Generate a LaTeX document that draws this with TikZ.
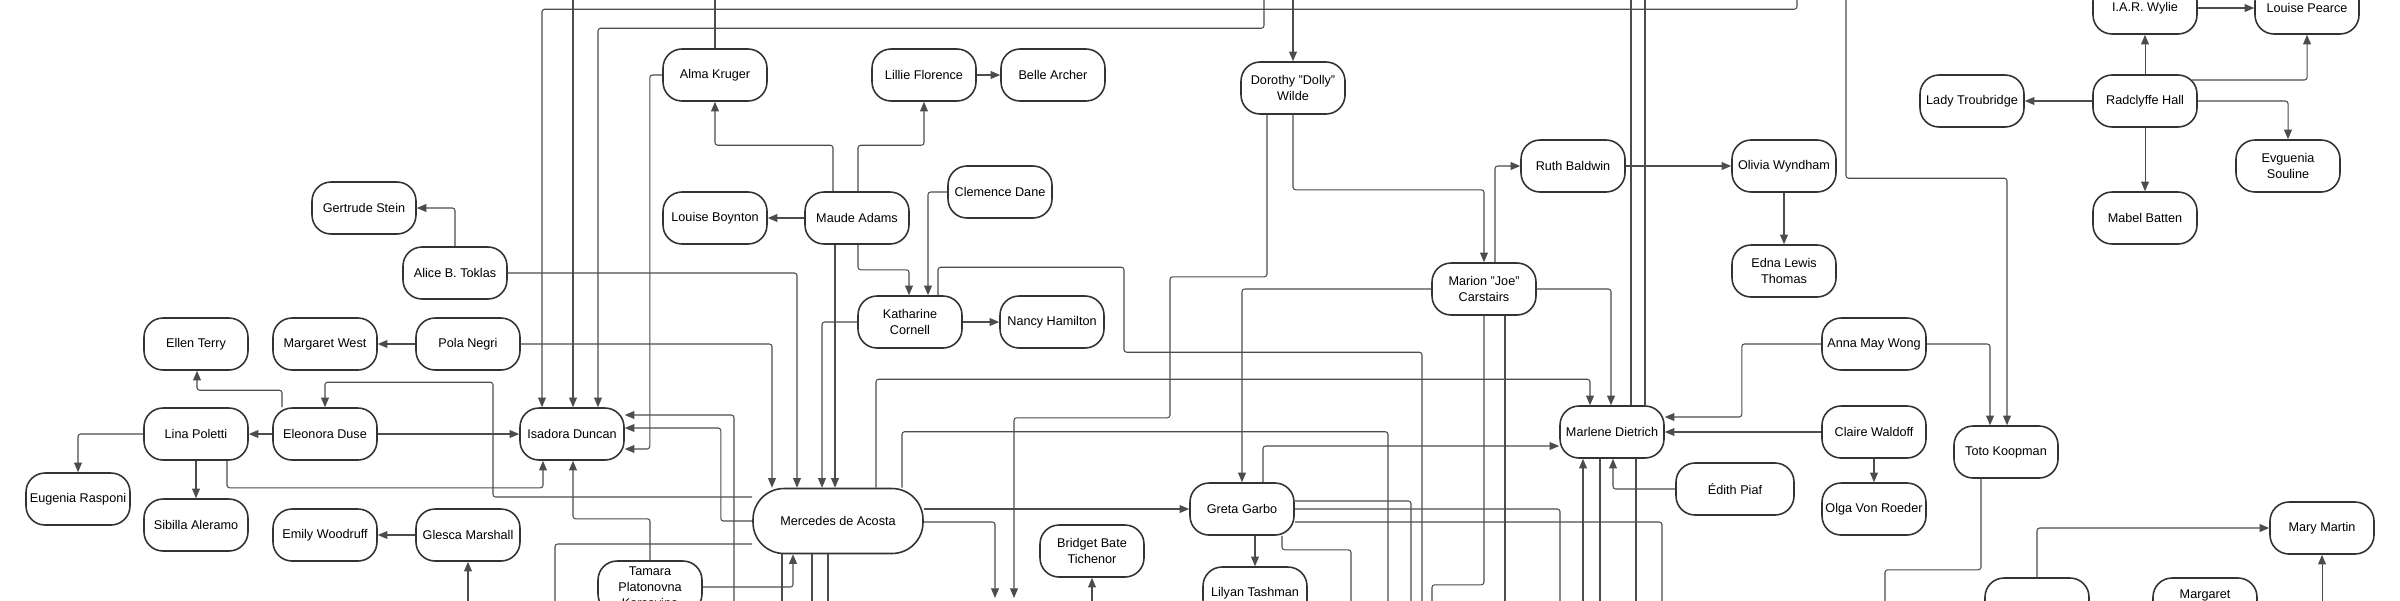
\documentclass[tikz,border=0pt]{standalone}
\usepackage{fontspec}
\setmainfont{Liberation Sans}
\usetikzlibrary{arrows.meta,calc}

\newcommand*{\framew}{2400}
\newcommand*{\frameh}{600}

\begin{document}
\begin{tikzpicture}
[
	x=0.02cm, y=-0.02cm,
	>={Triangle[length=5.5pt,width=4.5pt]},
	person/.style={draw=black!80,line width=0.9pt,rounded corners=0.38cm,minimum width=2.08cm,minimum height=1.04cm,inner sep=1pt,align=center,font=\fontsize{7.2}{9}\selectfont},
	bigperson/.style={person,minimum width=3.4cm,minimum height=1.3cm,rounded corners=0.62cm},
	link/.style={draw=black!70,line width=0.6pt,rounded corners=1.5pt},
]

	\useasboundingbox (0,0) rectangle (\framew,\frameh);
	\clip (0,0) rectangle (\framew,\frameh);

	% ends outside the frame
	\foreach \x in {573,715,1264,1293,1631,1645,1797,1846}
		\coordinate (t\x) at (\x,-20);
	\foreach \x in {468,555,734,782,812,828,1092,1351,1388,1411,1422,1432,1505,1560,1583,1600,1636,1662,1885,2322}
		\coordinate (b\x) at (\x,620);
	\coordinate (b995) at (995,598);
	\coordinate (b1014) at (1014,598);

	% people
	\node[person] at (364,208) (gertrude) {Gertrude Stein};
	\node[person] at (455,273) (alice) {Alice B. Toklas};
	\node[person] at (715,75) (alma) {Alma Kruger};
	\node[person] at (924,75) (lillie) {Lillie Florence};
	\node[person] at (1053,75) (belle) {Belle Archer};
	\node[person] at (715,218) (boynton) {Louise Boynton};
	\node[person] at (857,218) (maude) {Maude Adams};
	\node[person] at (1000,192) (clemence) {Clemence Dane};
	\node[person] at (1293,88) (dolly) {Dorothy "Dolly"\\Wilde};
	\node[person] at (1484,289) (marion) {Marion "Joe"\\Carstairs};
	\node[person] at (1573,166) (ruth) {Ruth Baldwin};
	\node[person] at (1784,166) (olivia) {Olivia Wyndham};
	\node[person] at (1784,271) (edna) {Edna Lewis\\Thomas};
	\node[person] at (2145,8) (wylie) {I.A.R. Wylie};
	\node[person] at (2307,8) (pearce) {Louise Pearce};
	\node[person] at (2145,101) (radclyffe) {Radclyffe Hall};
	\node[person] at (1972,101) (troubridge) {Lady Troubridge};
	\node[person] at (2288,166) (souline) {Evguenia\\Souline};
	\node[person] at (2145,218) (batten) {Mabel Batten};

	\node[person] at (196,344) (terry) {Ellen Terry};
	\node[person] at (325,344) (west) {Margaret West};
	\node[person] at (468,344) (negri) {Pola Negri};
	\node[person] at (196,434) (poletti) {Lina Poletti};
	\node[person] at (325,434) (duse) {Eleonora Duse};
	\node[person] at (572,434) (isadora) {Isadora Duncan};
	\node[person] at (78,499) (rasponi) {Eugenia Rasponi};
	\node[person] at (196,525) (aleramo) {Sibilla Aleramo};
	\node[person] at (325,535) (woodruff) {Emily Woodruff};
	\node[person] at (468,535) (glesca) {Glesca Marshall};
	\node[person] at (910,322) (katharine) {Katharine\\Cornell};
	\node[person] at (1052,322) (hamilton) {Nancy Hamilton};
	\node[bigperson] at (838,521) (mercedes) {Mercedes de Acosta};
	\node[person] at (650,587) (tamara) {Tamara\\Platonovna\\Karsavina};
	\node[person] at (1092,551) (bridget) {Bridget Bate\\Tichenor};
	\node[person] at (1242,509) (greta) {Greta Garbo};
	\node[person] at (1255,593) (lilyan) {Lilyan Tashman};
	\node[person] at (1612,432) (marlene) {Marlene Dietrich};
	\node[person,minimum width=2.36cm] at (1735,489) (edith) {Édith Piaf};
	\node[person] at (1874,344) (anna) {Anna May Wong};
	\node[person] at (1874,432) (claire) {Claire Waldoff};
	\node[person] at (1874,509) (olga) {Olga Von Roeder};
	\node[person] at (2006,452) (toto) {Toto Koopman};
	\node[person] at (2322,528) (mary) {Mary Martin};
	\node[person] at (2037,604) (nb) {};
	\node[person] at (2205,604) (margaret) {Margaret\\\strut};

	% links, upper left
	\draw[link,->] (alice.north) |- (gertrude.east);
	\draw[link,->] (alice.east) -| ($(mercedes.north)+(-41,0)$);
	\draw[link] (alma.north) -- (t715);
	\draw[link,->] ($(maude.north)+(-24,0)$) -- ++(0,-46) -| (alma.south);
	\draw[link,->] ($(maude.north)+(1,0)$) -- ++(0,-46) -| (lillie.south);
	\draw[link,->] (lillie) -- (belle);
	\draw[link,->] (maude) -- (boynton);
	\draw[link,->] ($(maude.south)+(1,0)$) -- ++(0,25) -| ($(katharine.north)+(-1,0)$);
	\draw[link,->] (clemence.west) -| ($(katharine.north)+(18,0)$);
	\draw[link,->] ($(maude.south)+(-22,0)$) -- ($(mercedes.north)+(-3,0)$);
	\draw[link,->] (katharine.west) -| ($(mercedes.north)+(-16,0)$);
	\draw[link,->] (katharine) -- (hamilton);
	\draw[link] ($(katharine.north)+(28,0)$) |- ($(katharine.north)+(214,-28)$) -- ++(0,85) -| (b1422);

	% links into isadora
	\draw[link,->] (t1797) |- ($(isadora.north)+(-30,-398)$) -- ($(isadora.north)+(-30,0)$);
	\draw[link,->] (t573) -- ($(isadora.north)+(1,0)$);
	\draw[link,->] (t1264) |- ($(isadora.north)+(26,-379)$) -- ($(isadora.north)+(26,0)$);
	\draw[link,->] (duse.east) -- (isadora.west);
	\draw[link,->] (b734) |- ($(isadora.east)+(0,-19)$);
	\draw[link,->] (mercedes.west) -| ($(isadora.east)+(96,-6)$) -- ($(isadora.east)+(0,-6)$);
	\draw[link,->] (alma.west) -| ($(isadora.east)+(25,15)$) -- ($(isadora.east)+(0,15)$);
	\draw[link,->] ($(poletti.south)+(31,0)$) |- ($(isadora.south)+(-29,27)$) -- ($(isadora.south)+(-29,0)$);
	\draw[link,->] (tamara.north) |- ($(isadora.south)+(1,58)$) -- ($(isadora.south)+(1,0)$);

	% links, left
	\draw[link,->] (negri) -- (west);
	\draw[link,->] (negri.east) -| ($(mercedes.north)+(-66,0)$);
	\draw[link,->] (duse) -- (poletti);
	\draw[link,->] ($(duse.north)+(-43,0)$) -- ++(0,-17) -| ($(terry.south)+(1,0)$);
	\draw[link,->] ($(mercedes.west)+(0,-24)$) -| ($(duse.north)+(168,-25)$) -| (duse.north);
	\draw[link,->] (poletti.west) -| (rasponi.north);
	\draw[link,->] (poletti) -- (aleramo);
	\draw[link,->] (glesca) -- (woodruff);
	\draw[link,->] (b468) -- (glesca.south);
	\draw[link,->] (tamara.east) -| ($(mercedes.south)+(-45,0)$);
	\draw[link] ($(mercedes.west)+(0,23)$) -| (b555);
	\draw[link] ($(mercedes.south)+(-56,0)$) -- (b782);
	\draw[link] ($(mercedes.south)+(-26,0)$) -- (b812);
	\draw[link] ($(mercedes.south)+(-10,0)$) -- (b828);

	% links, middle
	\draw[link,->] ($(mercedes.north)+(38,0)$) |- ($(marlene.north)+(-22,-26)$) -- ($(marlene.north)+(-22,0)$);
	\draw[link] ($(mercedes.north)+(64,0)$) |- ($(mercedes.north)+(550,-56)$) -- (b1388);
	\draw[link,->] (mercedes.east |- greta.west) -- (greta.west);
	\draw[link,->] ($(mercedes.east)+(0,1)$) -| (b995);
	\draw[link,->] ($(dolly.south)+(-26,0)$) |- ($(dolly.south)+(-123,162)$) -- ++(0,141) -| (b1014);
	\draw[link,->] (b1092) -- (bridget.south);
	\draw[link,->] (t1293) -- (dolly.north);
	\draw[link,->] (dolly.south) -- ++(0,75) -| (marion.north);
	\draw[link,->] ($(marion.north)+(11,0)$) |- (ruth.west);
	\draw[link,->] (ruth) -- (olivia);
	\draw[link,->] (olivia) -- (edna);
	\draw[link,->] (marion.west) -| (greta.north);
	\draw[link,->] (marion.east) -| ($(marlene.north)+(-1,0)$);
	\draw[link] (marion.south) |- ($(marion.south)+(-52,269)$) -- (b1432);
	\draw[link] ($(marion.south)+(21,0)$) -- (b1505);

	% links round greta and marlene
	\draw[link,->] ($(greta.north)+(21,0)$) |- ($(marlene.west)+(0,14)$);
	\draw[link,->] ($(greta.south)+(13,0)$) -- (lilyan.north);
	\draw[link] ($(greta.east)+(0,-8)$) -| (b1411);
	\draw[link] (greta.east) -| (b1560);
	\draw[link] ($(greta.east)+(0,13)$) -| (b1662);
	\draw[link] ($(greta.south)+(40,0)$) |- ($(greta.south)+(109,14)$) -- (b1351);
	\draw[link] ($(marlene.north)+(19,0)$) -- (t1631);
	\draw[link] ($(marlene.north)+(33,0)$) -- (t1645);
	\draw[link,->] (b1583) -- ($(marlene.south)+(-29,0)$);
	\draw[link] ($(marlene.south)+(-12,0)$) -- (b1600);
	\draw[link] ($(marlene.south)+(24,0)$) -- (b1636);
	\draw[link,->] (edith.west) -| ($(marlene.south)+(1,0)$);
	\draw[link,->] (anna.west) -| ($(marlene.east)+(77,-15)$) -- ($(marlene.east)+(0,-15)$);
	\draw[link,->] (claire.west) -- (marlene.east);
	\draw[link,->] (claire) -- (olga);

	% links, right
	\draw[link,->] (anna.east) -| ($(toto.north)+(-16,0)$);
	\draw[link,->] (t1846) |- ($(toto.north)+(1,-247)$) -- ($(toto.north)+(1,0)$);
	\draw[link] ($(toto.south)+(-25,0)$) |- ($(toto.south)+(-121,91)$) -- (b1885);
	\draw[link,->] (nb.north) |- (mary.west);
	\draw[link,->] (b2322) -- (mary.south);
	\draw[link,->] (radclyffe) -- (troubridge);
	\draw[link,->] (radclyffe) -- (wylie);
	\draw[link,->] (wylie) -- (pearce);
	\draw[link,->] ($(radclyffe.east)+(-6,-21)$) -| (pearce.south);
	\draw[link,->] (radclyffe.east) -| (souline.north);
	\draw[link,->] (radclyffe) -- (batten);

\end{tikzpicture}
\end{document}
